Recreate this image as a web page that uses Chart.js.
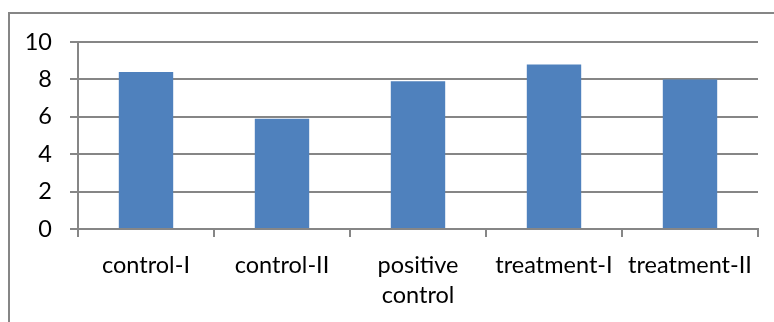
<!DOCTYPE html>
<html>
<head>
<meta charset="utf-8">
<script src="https://cdn.jsdelivr.net/npm/chart.js@4/dist/chart.umd.min.js"></script>
<style>
  html, body { margin: 0; padding: 0; background: #fff; }
  #wrap { width: 774px; height: 322px; position: relative; }
</style>
</head>
<body>
<div id="wrap"><canvas id="c" width="774" height="322"></canvas></div>
<script>
// Categories and measured values
const categories = ['control-I', 'control-II', ['positive', 'control'], 'treatment-I', 'treatment-II'];
const values = [8.4, 5.9, 7.9, 8.8, 8.0];
const yTicks = [0, 2, 4, 6, 8, 10];

const GRID = '#868686';
const BAR = '#4F81BD';
const FONT = { family: 'Lato, "Open Sans", sans-serif', size: 23.5 };

// Outer frame of the chart object
const framePlugin = {
  id: 'frame',
  beforeDraw(chart) {
    const ctx = chart.ctx;
    ctx.save();
    ctx.strokeStyle = GRID;
    ctx.lineWidth = 2;
    ctx.strokeRect(9, 13, 900, 500);
    ctx.restore();
  }
};

new Chart(document.getElementById('c'), {
  type: 'bar',
  data: {
    labels: categories,
    datasets: [{
      data: values,
      backgroundColor: BAR,
      borderWidth: 0,
      categoryPercentage: 1.0,
      barPercentage: 0.4
    }]
  },
  options: {
    responsive: false,
    animation: false,
    devicePixelRatio: 1,
    layout: { padding: { top: 42, right: 16, left: 0, bottom: 0 } },
    plugins: { legend: { display: false }, tooltip: { enabled: false } },
    scales: {
      x: {
        offset: true,
        grid: {
          offset: true,
          drawOnChartArea: false,
          drawTicks: true,
          tickLength: 8,
          color: GRID,
          lineWidth: 2
        },
        border: { color: GRID, width: 2 },
        ticks: {
          color: '#000',
          font: Object.assign({ lineHeight: 1.28 }, FONT),
          maxRotation: 0,
          minRotation: 0,
          autoSkip: false,
          padding: 13
        },
        afterFit(scale) { scale.height = 93; }
      },
      y: {
        min: 0,
        max: 10,
        afterBuildTicks(scale) { scale.ticks = yTicks.map(v => ({ value: v })); },
        grid: {
          color: GRID,
          lineWidth: 2,
          drawTicks: true,
          tickLength: 8
        },
        border: { color: GRID, width: 2 },
        ticks: {
          color: '#000',
          font: FONT,
          padding: 18
        },
        afterFit(scale) { scale.width = 78; }
      }
    }
  },
  plugins: [framePlugin]
});
</script>
</body>
</html>
